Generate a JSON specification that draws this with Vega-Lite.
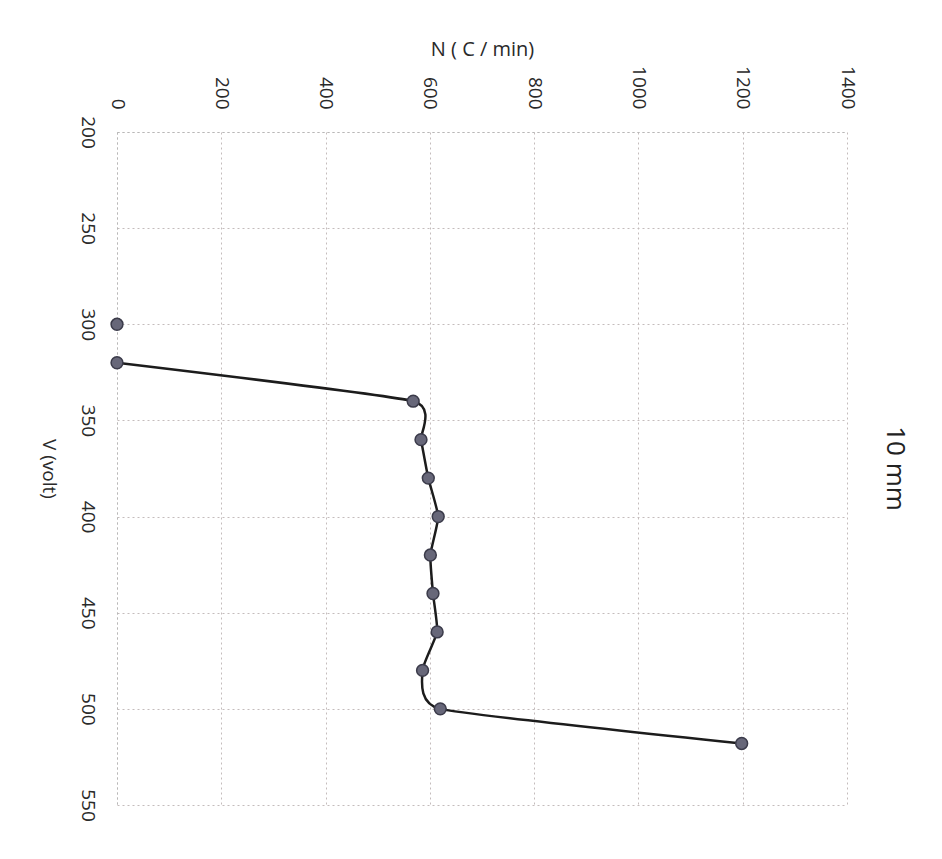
{
  "$schema": "https://vega.github.io/schema/vega-lite/v6.json",
  "width": 730,
  "height": 673,
  "autosize": {"type": "none"},
  "padding": {"left": 117, "top": 132, "right": 95, "bottom": 54},
  "background": "white",
  "title": {"text": "10 mm", "orient": "right", "anchor": "middle", "angle": 90, "fontSize": 26, "font": "Open Sans", "fontWeight": "normal", "color": "#222222", "offset": 0, "baseline": "bottom"},
  "config": {"view": {"stroke": null}},
  "data": {"values": [
    {"N": 0, "V": 300},
    {"N": 0, "V": 320},
    {"N": 568, "V": 340},
    {"N": 583, "V": 360},
    {"N": 597, "V": 380},
    {"N": 616, "V": 400},
    {"N": 601, "V": 420},
    {"N": 606, "V": 440},
    {"N": 614, "V": 460},
    {"N": 586, "V": 480},
    {"N": 620, "V": 500},
    {"N": 1198, "V": 518}
  ]},
  "encoding": {
    "x": {"field": "N", "type": "quantitative", "scale": {"domain": [0, 1400], "nice": false},
      "axis": {"orient": "top", "title": "N ( C / min)", "values": [0, 200, 400, 600, 800, 1000, 1200, 1400], "format": "d",
        "labelAngle": 90, "labelAlign": "right", "labelBaseline": "middle", "labelPadding": 23, "ticks": false,
        "labelFont": "Open Sans", "labelFontSize": 19, "labelColor": "#2a2a2a", "labelFlush": false, "labelOverlap": false,
        "titleFont": "Open Sans", "titleFontSize": 20, "titleFontWeight": "normal", "titleColor": "#2a2a2a", "titlePadding": 6,
        "grid": true, "gridColor": "#c4bcbc", "gridDash": [2, 3], "gridWidth": 1,
        "domainColor": "#b8b8b8", "domainDash": [2, 3], "domainWidth": 1}},
    "y": {"field": "V", "type": "quantitative", "scale": {"domain": [200, 550], "nice": false, "reverse": true},
      "axis": {"orient": "left", "title": "V (volt)", "values": [200, 250, 300, 350, 400, 450, 500, 550], "format": "d",
        "labelAngle": 90, "labelAlign": "center", "labelBaseline": "top", "labelPadding": 21, "ticks": false,
        "labelFont": "Open Sans", "labelFontSize": 19, "labelColor": "#2a2a2a", "labelFlush": false, "labelOverlap": false,
        "titleFont": "Open Sans", "titleFontSize": 19, "titleFontWeight": "normal", "titleColor": "#2a2a2a",
        "titleAngle": 90, "titleBaseline": "top", "titlePadding": 20,
        "grid": true, "gridColor": "#c4bcbc", "gridDash": [2, 3], "gridWidth": 1,
        "domainColor": "#b8b8b8", "domainDash": [2, 3], "domainWidth": 1}}
  },
  "layer": [
    {"transform": [{"filter": "datum.V >= 320"}],
     "mark": {"type": "line", "interpolate": "cardinal", "tension": 0.55, "color": "#1c1c1c", "strokeWidth": 2.5},
     "encoding": {"order": {"field": "V", "type": "quantitative"}}},
    {"mark": {"type": "circle", "size": 140, "fill": "#676779", "stroke": "#3b3b4a", "strokeWidth": 1.5, "opacity": 1}}
  ]
}
